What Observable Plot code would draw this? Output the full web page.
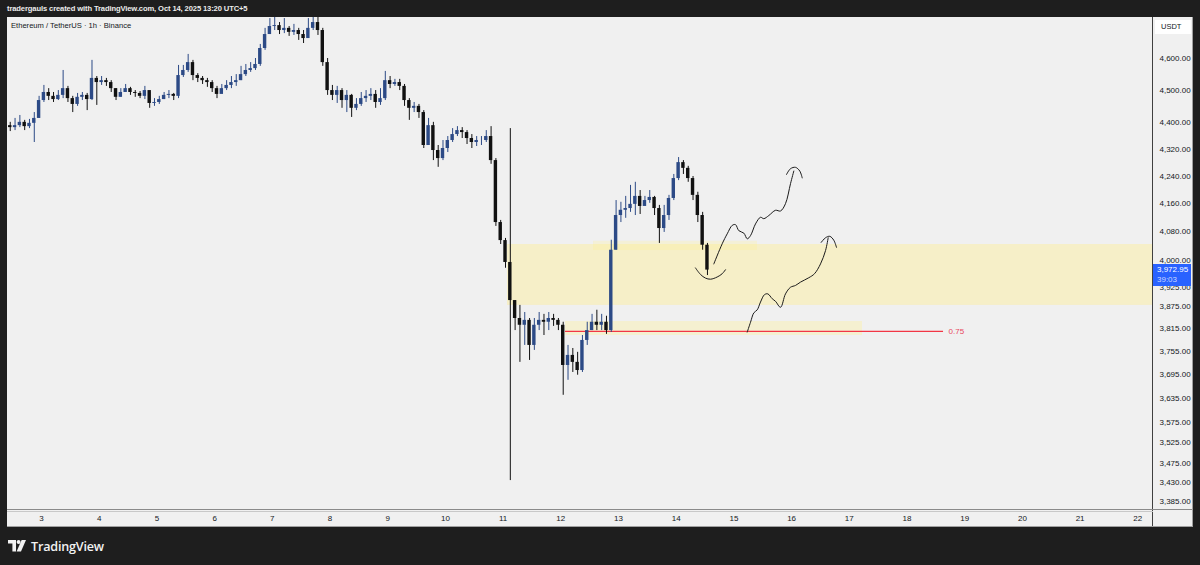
<!DOCTYPE html>
<html>
<head>
<meta charset="utf-8">
<script src="https://cdn.jsdelivr.net/npm/d3@7"></script>
<script src="https://cdn.jsdelivr.net/npm/@observablehq/plot@0.6"></script>
<style>
  html, body { margin:0; padding:0; background:#1e1e1e; width:1200px; height:565px; overflow:hidden;
    font-family:"Liberation Sans", Arial, sans-serif; }
  #topbar { position:absolute; left:7px; top:0; height:17px; line-height:17px; color:#ececec; font-size:7.6px; font-weight:600; letter-spacing:-0.12px; white-space:nowrap; }
  #panel { position:absolute; left:7px; top:17px; width:1186px; height:510px; background:#f0f0f0; }
  #chart { position:absolute; left:0; top:17px; }
  .sep { position:absolute; }
  #symbol { position:absolute; left:11px; top:21px; font-size:7.6px; color:#131722; white-space:nowrap; }
  #usdt { position:absolute; left:1155px; top:20px; width:36px; height:14px; background:#fff; font-size:7.5px; color:#131722; line-height:14px; text-indent:6px; }
  #badge { position:absolute; left:1153px; width:38px; height:22px; background:#2962ff; color:#fff; font-size:8px; line-height:10px; padding-left:4px; box-sizing:border-box; padding-top:1px; }
  #badge .cd { color:#c9d6ff; }
  #footer { position:absolute; left:8px; top:538px; height:16px; display:flex; align-items:center; color:#f2f2f2; font-family:"Open Sans", "Liberation Sans", sans-serif; font-weight:600; font-size:12.6px; letter-spacing:-0.2px; }
  #footer svg { margin-right:5px; }
</style>
</head>
<body>
<div id="topbar">tradergauls created with TradingView.com, Oct 14, 2025 13:20 UTC+5</div>
<div id="panel"></div>
<div id="chart"></div>
<div class="sep" style="left:1152px;top:17px;width:1px;height:510px;background:#404040"></div>
<div class="sep" style="left:7px;top:509px;width:1186px;height:1px;background:#8a8a8a"></div>
<div class="sep" style="left:7px;top:511px;width:1146px;height:1px;background:#c8c8c8"></div>
<div class="sep" style="left:7px;top:526px;width:1186px;height:1px;background:#a0a0a0"></div>
<div class="sep" style="left:1192px;top:17px;width:1px;height:510px;background:#a0a0a0"></div>
<div id="symbol">Ethereum / TetherUS · 1h · Binance</div>
<div id="usdt">USDT</div>
<div id="badge"></div>
<div id="footer">
  <svg width="18" height="12" viewBox="0 0 18 12"><path d="M0 0H8V11.5H4.4V3.6H0Z" fill="#f2f2f2"/><circle cx="10.6" cy="2" r="2" fill="#f2f2f2"/><path d="M13.6 0H18L13 11.5H8.6Z" fill="#f2f2f2"/></svg>
  <span>TradingView</span>
</div>
<script>
// ---- Candle data: ETH/USDT, 2-hour candles starting Oct 2 10:00 (day numbers of October) ----
const candleStartDay = 2 + 10 / 24;
const candleStepDay = 2 / 24;
const firstOpen = 4391;
const closes = [
  4385, 4391, 4401, 4388, 4398, 4413, 4468, 4493, 4481, 4471,
  4484, 4505, 4474, 4456, 4478, 4484, 4471, 4537, 4524, 4530,
  4524, 4505, 4478, 4493, 4505, 4493, 4490, 4481, 4499, 4459,
  4462, 4471, 4484, 4487, 4481, 4546, 4562, 4587, 4546, 4537,
  4530, 4524, 4505, 4487, 4505, 4515, 4524, 4530, 4549, 4562,
  4568, 4581, 4632, 4677, 4703, 4706, 4690, 4697, 4684, 4690,
  4677, 4664, 4697, 4716, 4690, 4587, 4499, 4484, 4499, 4468,
  4484, 4444, 4456, 4474, 4481, 4487, 4462, 4474, 4530, 4518,
  4524, 4512, 4468, 4444, 4450, 4431, 4331, 4391, 4316, 4292,
  4322, 4346, 4364, 4376, 4370, 4352, 4340, 4346, 4346, 4358,
  4286, 4106, 4055, 3994, 3890, 3842, 3824, 3837, 3771, 3824,
  3837, 3832, 3842, 3837, 3824, 3719, 3745, 3727, 3706, 3784,
  3810, 3832, 3824, 3832, 3810, 4028, 4126, 4141, 4146, 4158,
  4181, 4152, 4169, 4178, 4146, 4089, 4126, 4175, 4233, 4280,
  4263, 4233, 4184, 4126, 4042, 3972.95
];
const highs = [
  4401, 4413, 4422, 4407, 4410, 4431, 4481, 4515, 4505, 4493,
  4499, 4562, 4512, 4481, 4490, 4493, 4490, 4594, 4543, 4543,
  4537, 4530, 4505, 4505, 4518, 4509, 4499, 4496, 4512, 4493,
  4474, 4481, 4493, 4499, 4490, 4578, 4578, 4613, 4594, 4552,
  4543, 4537, 4530, 4512, 4518, 4530, 4543, 4549, 4575, 4581,
  4587, 4600, 4645, 4697, 4729, 4736, 4716, 4729, 4703, 4710,
  4697, 4690, 4729, 4755, 4739, 4697, 4600, 4515, 4512, 4505,
  4499, 4487, 4474, 4493, 4499, 4505, 4499, 4505, 4559, 4543,
  4534, 4534, 4518, 4474, 4462, 4456, 4437, 4413, 4401, 4331,
  4346, 4358, 4382, 4388, 4385, 4376, 4364, 4358, 4358, 4376,
  4388, 4292, 4112, 4061, 4382, 3890, 3877, 3858, 3842, 3842,
  3858, 3853, 3858, 3853, 3842, 3832, 3771, 3763, 3753, 3797,
  3832, 3853, 3864, 3853, 3848, 4056, 4169, 4164, 4181, 4213,
  4222, 4198, 4181, 4198, 4181, 4155, 4155, 4184, 4245, 4295,
  4286, 4269, 4239, 4193, 4135, 4047
];
const lows = [
  4373, 4376, 4385, 4376, 4382, 4340, 4413, 4462, 4468, 4462,
  4468, 4474, 4462, 4431, 4450, 4468, 4437, 4468, 4453, 4515,
  4512, 4493, 4468, 4478, 4493, 4484, 4478, 4474, 4471, 4444,
  4450, 4456, 4471, 4474, 4468, 4474, 4540, 4556, 4530, 4524,
  4518, 4509, 4493, 4474, 4493, 4499, 4505, 4512, 4530, 4543,
  4556, 4562, 4575, 4626, 4677, 4690, 4677, 4680, 4671, 4674,
  4658, 4648, 4671, 4690, 4674, 4575, 4484, 4468, 4459, 4444,
  4431, 4416, 4437, 4450, 4462, 4468, 4444, 4453, 4468, 4505,
  4512, 4499, 4450, 4407, 4431, 4413, 4322, 4331, 4286, 4266,
  4286, 4310, 4340, 4358, 4352, 4334, 4322, 4328, 4331, 4340,
  4275, 4095, 4044, 3978, 3434, 3810, 3727, 3771, 3732, 3758,
  3810, 3797, 3810, 3821, 3810, 3643, 3681, 3701, 3694, 3701,
  3771, 3810, 3810, 3810, 3800, 3805, 4028, 4106, 4118, 4135,
  4126, 4129, 4155, 4161, 4126, 4047, 4078, 4112, 4169, 4227,
  4245, 4222, 4169, 4106, 4028, 3958
];

// ---- Axis ticks ----
const priceTicks = [4600, 4500, 4400, 4320, 4240, 4160, 4080, 4000, 3925, 3875, 3815, 3755, 3695, 3635, 3575, 3525, 3475, 3430, 3385];
const dayTicks = [3, 4, 5, 6, 7, 8, 9, 10, 11, 12, 13, 14, 15, 16, 17, 18, 19, 20, 21, 22];
const xDomain = [2.4107, 22.272];
const yDomain = [3363.6, 4732.5];

// ---- Drawn zones (rectangles) ----
const zoneStart = [11.076, 12.081, 12.567];
const zoneEnd = [22.272, 17.229, 15.409];
const zoneLow = [3877, 3797, 4027];
const zoneHigh = [4044, 3834, 4053];
const zoneOpacity = [0.4, 0.32, 0.25];

// ---- Horizontal level ----
const levelPrice = 3808;
const levelStart = 12.081;
const levelEnd = 18.633;
const levelLabel = "0.75";

// ---- Hand-drawn projection paths ----
const upperPathDay = [14.652, 14.797, 14.884, 14.971, 15.028, 15.085, 15.172, 15.231, 15.288, 15.374, 15.461, 15.518, 15.605, 15.721, 15.808, 15.894, 15.981, 16.038];
const upperPathPrice = [3990, 4046, 4074, 4098, 4100, 4083, 4076, 4060, 4069, 4102, 4121, 4117, 4126, 4141, 4139, 4160, 4218, 4255];
const upperHookDay = [15.912, 15.981, 16.068, 16.142, 16.184];
const upperHookPrice = [4245, 4262, 4266, 4255, 4235];
const lowerPathDay = [15.231, 15.288, 15.345, 15.404, 15.461, 15.530, 15.588, 15.664, 15.721, 15.808, 15.894, 15.981, 16.068, 16.154, 16.298, 16.397, 16.501, 16.588, 16.634];
const lowerPathPrice = [3806, 3832, 3857, 3865, 3886, 3906, 3908, 3895, 3888, 3872, 3908, 3926, 3931, 3940, 3952, 3963, 3990, 4027, 4063];
const lowerHookDay = [16.513, 16.588, 16.662, 16.731, 16.778];
const lowerHookPrice = [4050, 4063, 4067, 4056, 4036];
const smileDay = [14.334, 14.421, 14.508, 14.594, 14.710, 14.797, 14.854];
const smilePrice = [3979, 3961, 3951, 3948, 3954, 3963, 3974];

const countdown = "39:03";

// ---- Build tables ----
const candles = closes.map((c, i) => {
  const o = i === 0 ? firstOpen : closes[i - 1];
  return { t0: candleStartDay + i * candleStepDay, t1: candleStartDay + (i + 1) * candleStepDay,
           tm: candleStartDay + (i + 0.5) * candleStepDay, o, c, h: highs[i], l: lows[i],
           lo: Math.min(o, c), hi: Math.max(o, c), up: c >= o };
});
const zones = zoneStart.map((s, i) => ({ s, e: zoneEnd[i], lo: zoneLow[i], hi: zoneHigh[i], op: zoneOpacity[i] }));
const toPts = (ds, ps) => ds.map((d, i) => ({ d, p: ps[i] }));
const paths = [toPts(upperPathDay, upperPathPrice), toPts(upperHookDay, upperHookPrice),
               toPts(lowerPathDay, lowerPathPrice), toPts(lowerHookDay, lowerHookPrice),
               toPts(smileDay, smilePrice)];

const upColor = "#2c4a86";
const downColor = "#111111";
const ink = "#131722";
const red = "#f23645";

const chart = Plot.plot({
  width: 1200,
  height: 510,
  marginLeft: 7,
  marginRight: 47,
  marginTop: 0,
  marginBottom: 17,
  style: { background: "transparent", fontFamily: "'Liberation Sans', Arial, sans-serif", fontSize: "8px", color: ink, overflow: "visible" },
  x: { domain: xDomain, label: null },
  y: { type: "log", domain: yDomain, label: null },
  marks: [
    Plot.rect(zones, { x1: "s", x2: "e", y1: "lo", y2: "hi", fill: "rgb(255,238,140)", fillOpacity: "op", clip: true }),
    Plot.ruleY([levelPrice], { x1: levelStart, x2: levelEnd, stroke: red, strokeWidth: 1.2 }),
    Plot.text([levelLabel], { x: levelEnd, y: levelPrice, text: d => d, dx: 5, textAnchor: "start", fill: "#e8485e", fontSize: 8 }),
    Plot.ruleX(candles, { x: "tm", y1: "l", y2: "h", stroke: d => d.up ? upColor : downColor, strokeWidth: 1, clip: true }),
    Plot.rect(candles, { x1: "t0", x2: "t1", y1: "lo", y2: "hi", insetLeft: 0.7, insetRight: 0.7,
      fill: d => d.up ? upColor : downColor, clip: true }),
    ...paths.map(pts => Plot.line(pts, { x: "d", y: "p", curve: "catmull-rom", stroke: "#1b1b1b", strokeWidth: 1 })),
    Plot.axisY(priceTicks, { anchor: "right", tickSize: 0, tickPadding: 6, fill: ink, fontSize: 8,
      tickFormat: d => d3.format(",.2f")(d) }),
    Plot.axisX(dayTicks, { anchor: "bottom", tickSize: 0, tickPadding: 5, fill: ink, fontSize: 8,
      tickFormat: d => String(d) })
  ]
});
document.getElementById("chart").appendChild(chart);

// price badge positioned with the chart's own y scale
const lastClose = closes[closes.length - 1];
const yPix = chart.scale("y").apply(lastClose) + 17;
const badge = document.getElementById("badge");
badge.style.top = (yPix - 6) + "px";
badge.innerHTML = d3.format(",.2f")(lastClose) + "<br><span class='cd'>" + countdown + "</span>";
</script>
</body>
</html>
